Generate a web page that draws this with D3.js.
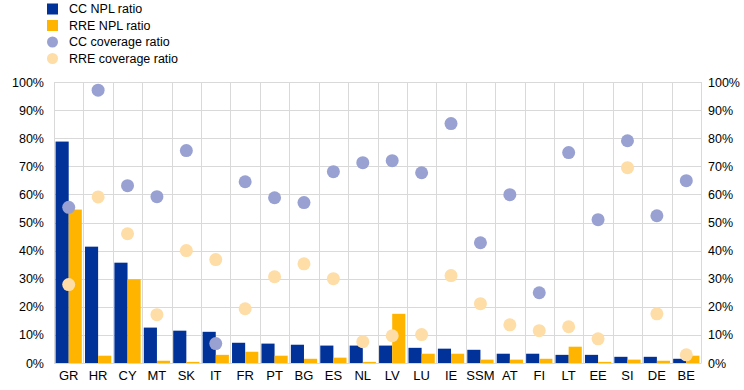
<!DOCTYPE html>
<html>
<head>
<meta charset="utf-8">
<script src="https://cdn.jsdelivr.net/npm/d3@7"></script>
<style>
  body { margin: 0; background: #fff; }
  svg text { font-family: Arial, "Liberation Sans", sans-serif; fill: #000; }
</style>
</head>
<body>
<div id="chart"></div>
<script>
// categories and series (percent)
const countries = ["GR","HR","CY","MT","SK","IT","FR","PT","BG","ES","NL","LV","LU","IE","SSM","AT","FI","LT","EE","SI","DE","BE"];
const ccNpl  = [78.8, 41.4, 35.7, 12.6, 11.5, 11.1, 7.2, 6.9, 6.5, 6.2, 6.2, 6.2, 5.4, 5.1, 4.7, 3.3, 3.3, 2.9, 2.9, 2.2, 2.2, 1.5];
const rreNpl = [54.6, 2.6, 29.8, 0.8, 0.4, 2.9, 4.0, 2.6, 1.5, 1.9, 0.4, 17.5, 3.3, 3.3, 1.2, 1.2, 1.5, 5.8, 0.4, 1.2, 0.8, 2.6];
const ccCov  = [55.4, 97.1, 63.1, 59.2, 75.6, 6.9, 64.5, 58.8, 57.1, 68.1, 71.3, 72.0, 67.7, 85.2, 42.8, 59.9, 25.0, 74.9, 51.0, 79.1, 52.4, 64.9];
const rreCov = [27.9, 59.1, 46.0, 17.2, 40.0, 36.8, 19.3, 30.7, 35.3, 30.0, 7.6, 9.7, 10.1, 31.1, 21.1, 13.6, 11.5, 12.9, 8.6, 69.5, 17.5, 2.9];
const yTicks = [0, 10, 20, 30, 40, 50, 60, 70, 80, 90, 100];
const legendLabels = ["CC NPL ratio", "RRE NPL ratio", "CC coverage ratio", "RRE coverage ratio"];

const width = 744, height = 390;
const margin = {top: 82, right: 43, bottom: 27, left: 54};
const fontsize = 12.5;
const colBlue = "#003299", colOrange = "#ffb400", colBlueDot = "#98a1d2", colOrangeDot = "#fedda6";

const svg = d3.select("#chart").append("svg")
  .attr("width", width)
  .attr("height", height);

const x = d3.scaleBand()
  .domain(countries)
  .range([margin.left, width - margin.right]);

const inner = d3.scaleBand()
  .domain(["cc", "rre"])
  .range([0, x.bandwidth()])
  .paddingOuter(0.12);

const y = d3.scaleLinear()
  .domain([0, 100])
  .range([height - margin.bottom, margin.top]);

// grid
svg.append("g")
  .selectAll("line")
  .data(yTicks)
  .join("line")
  .attr("x1", margin.left)
  .attr("x2", width - margin.right)
  .attr("y1", d => Math.round(y(d)) + 0.5)
  .attr("y2", d => Math.round(y(d)) + 0.5)
  .attr("stroke", "#d9d9d9");

svg.append("g")
  .selectAll("line")
  .data(countries.concat(["_end"]))
  .join("line")
  .attr("x1", (d, i) => Math.round(i < countries.length ? x(d) : x.range()[1]) + 0.5)
  .attr("x2", (d, i) => Math.round(i < countries.length ? x(d) : x.range()[1]) + 0.5)
  .attr("y1", y(100))
  .attr("y2", y(0))
  .attr("stroke", "#d9d9d9");

// bars
const rows = countries.map((c, i) => ({c, cc: ccNpl[i], rre: rreNpl[i], ccc: ccCov[i], rrc: rreCov[i]}));

svg.append("g").selectAll("rect")
  .data(rows)
  .join("rect")
  .attr("x", d => x(d.c) + inner("cc"))
  .attr("y", d => y(d.cc))
  .attr("width", inner.bandwidth())
  .attr("height", d => y(0) - y(d.cc))
  .attr("fill", colBlue);

svg.append("g").selectAll("rect")
  .data(rows)
  .join("rect")
  .attr("x", d => x(d.c) + inner("rre"))
  .attr("y", d => y(d.rre))
  .attr("width", inner.bandwidth())
  .attr("height", d => y(0) - y(d.rre))
  .attr("fill", colOrange);

// dots
svg.append("g").selectAll("circle")
  .data(rows)
  .join("circle")
  .attr("cx", d => x(d.c) + x.bandwidth() / 2)
  .attr("cy", d => y(d.ccc))
  .attr("r", 6.5)
  .attr("fill", colBlueDot);

svg.append("g").selectAll("circle")
  .data(rows)
  .join("circle")
  .attr("cx", d => x(d.c) + x.bandwidth() / 2)
  .attr("cy", d => y(d.rrc))
  .attr("r", 6.5)
  .attr("fill", colOrangeDot);

// axes
function yAxisLeft(g) {
  g.attr("transform", `translate(${margin.left},0)`)
    .call(d3.axisLeft(y).tickValues(yTicks).tickFormat(d => d + "%").tickSize(0).tickPadding(10))
    .attr("font-size", fontsize);
  g.select(".domain").remove();
}
function yAxisRight(g) {
  g.attr("transform", `translate(${width - margin.right},0)`)
    .call(d3.axisRight(y).tickValues(yTicks).tickFormat(d => d + "%").tickSize(0).tickPadding(7))
    .attr("font-size", fontsize);
  g.select(".domain").remove();
}
function xAxis(g) {
  g.attr("transform", `translate(0,${y(0)})`)
    .call(d3.axisBottom(x).tickSize(0).tickPadding(8))
    .attr("font-size", 13);
  g.select(".domain").attr("stroke", "#d9d9d9");
}
svg.append("g").call(yAxisLeft);
svg.append("g").call(yAxisRight);
svg.append("g").call(xAxis);
svg.selectAll(".tick text").attr("fill", "#000");

// legend
const legend = svg.append("g").attr("font-size", fontsize);
legendLabels.forEach((lab, i) => {
  const cy = 9 + i * 16.5;
  if (i < 2) {
    legend.append("rect").attr("x", 47).attr("y", cy - 5.5).attr("width", 11).attr("height", 11)
      .attr("fill", i === 0 ? colBlue : colOrange);
  } else {
    legend.append("circle").attr("cx", 52.5).attr("cy", cy).attr("r", 5.5)
      .attr("fill", i === 2 ? colBlueDot : colOrangeDot);
  }
  legend.append("text").attr("x", 69).attr("y", cy).attr("dy", "0.35em").text(lab);
});
</script>
</body>
</html>
